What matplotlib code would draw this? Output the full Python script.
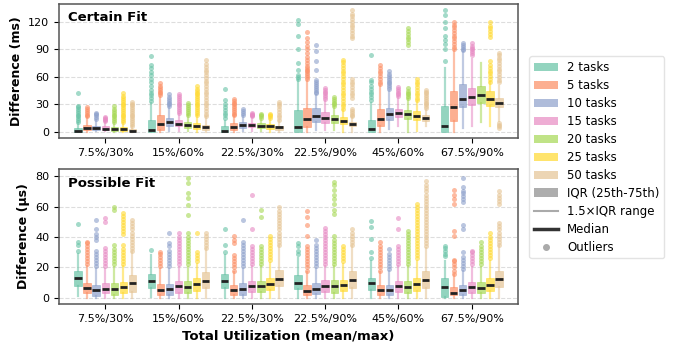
import matplotlib
matplotlib.use("Agg")
from matplotlib import pyplot as plt
from matplotlib.patches import Patch
from matplotlib.lines import Line2D
import numpy as np

groups = ["7.5%/30%", "15%/60%", "22.5%/30%", "22.5%/90%", "45%/60%", "67.5%/90%"]
series = ["2 tasks", "5 tasks", "10 tasks", "15 tasks", "20 tasks", "25 tasks", "50 tasks"]
colors = ["#66c2a5", "#fc8d62", "#8da0cb", "#e78ac3", "#a6d854", "#ffd92f", "#e5c494"]

# ---- Certain Fit (ms) ----
certain_q1 = [
    [0.3, 0.2, 0.2, 0.3, 0.2, 0.3],
    [2, 2, 2, 5.8, 6.5, 12.4],
    [2.5, 7, 4.7, 11, 13, 27],
    [2, 6, 5, 9.5, 16, 29.5],
    [1.5, 4, 4, 9.5, 14, 32],
    [1, 3.5, 3.5, 8.5, 13, 28.4],
    [0.5, 2, 2, 6, 12.3, 27],
]
certain_med = [
    [1.5, 2.5, 1.0, 5.0, 3.3, 7.0],
    [4.5, 8.5, 5.5, 14, 14.5, 27.6],
    [4.5, 11, 8, 17.8, 19.6, 36],
    [3.5, 9, 7.6, 15, 20.4, 38.5],
    [3, 7.5, 6.5, 14, 19.3, 40.4],
    [3, 7, 6.2, 12, 17.8, 36],
    [1.5, 5, 5.2, 8.7, 15.6, 32],
]
certain_q3 = [
    [4.5, 13, 6, 24, 13, 28],
    [8, 18, 9.6, 26, 25, 45],
    [7, 15, 11.3, 26, 26.5, 52.3],
    [6, 13, 10.2, 21.5, 25.4, 48],
    [5.5, 11, 9.5, 18, 24, 50],
    [5, 10, 9, 16, 23, 44.7],
    [3, 8, 7, 11, 18.5, 37.4],
]
certain_lo = [
    [0, 0, 0, 0, 0, 0],
    [0, 0, 0, 0, 0, 0],
    [0.5, 1, 1, 2, 3, 4.7],
    [0.5, 1, 1, 2, 6, 7],
    [0, 0.5, 0.5, 2, 0, 10.5],
    [0, 0, 0, 0, 1, 6],
    [0, 0, 0, 0, 6, 12],
]
certain_hi = [
    [10, 32, 12, 57, 32, 70],
    [16, 38, 17, 56, 50, 88],
    [13, 27, 17, 40, 45, 87],
    [11, 20, 16, 34, 38, 80],
    [10, 18, 14, 27, 36, 75.6],
    [10, 18, 14, 24, 33, 54],
    [6, 16, 12, 16, 24, 50],
]
certain_out = [
    [[11, 13, 15, 17, 19, 21, 23, 25, 27, 28, 42],
     [34, 37, 40, 43, 46, 50, 55, 58, 62, 65, 70, 73, 83],
     [15, 18, 21, 24, 27, 30, 35, 47],
     [58, 60, 62, 68, 75, 90, 105, 118, 122],
     [35, 38, 41, 44, 47, 50, 54, 57, 84],
     [77, 91, 96, 100, 105, 113, 120, 128, 133]],
    [[17, 19, 21, 23, 25, 27],
     [40, 42, 44, 46, 48, 50, 53],
     [18, 20, 22, 24, 26, 28, 30, 32, 34, 36],
     [58, 60, 62, 64, 66, 68, 70, 72, 75, 78, 82, 86, 90, 94, 98, 102, 109],
     [52, 55, 58, 61, 64, 67, 70, 73],
     [90, 93, 96, 99, 102, 105, 108, 111, 114, 117, 120]],
    [[14, 16, 18, 20, 21],
     [28, 30, 32, 34, 36, 38, 41],
     [19, 21, 23, 25],
     [42, 44, 46, 48, 50, 52, 54, 57, 68, 77, 88, 95],
     [47, 49, 51, 53, 55, 57, 59, 61, 63, 66],
     [89, 91, 93, 95, 97]],
    [[12, 13, 14, 15, 16],
     [21, 23, 25, 27, 29, 31, 33, 35, 37, 39, 41],
     [17, 18, 19, 20, 21],
     [36, 38, 40, 42, 44, 46, 48],
     [39, 41, 43, 45, 47, 49],
     [84, 86, 88, 90, 92, 94, 97]],
    [[11, 13, 15, 17, 19, 21, 23, 25, 28],
     [19, 21, 23, 25, 27, 29, 32],
     [15, 17, 19, 20],
     [28, 30, 32, 34, 36, 38],
     [37, 39, 41, 43, 45, 48, 95, 98, 101, 104, 107, 110, 113],
     []],
    [[11, 13, 15, 17, 19, 21, 23, 25, 27, 29, 31, 33, 35, 37, 39, 42],
     [19, 21, 23, 25, 27, 29, 31, 33, 35, 37, 39, 41, 43, 45, 47, 50],
     [15, 17, 19, 20],
     [25, 28, 31, 34, 37, 40, 43, 46, 49, 52, 55, 58, 61, 64, 67, 70, 73, 76, 78],
     [35, 37, 40, 43, 46, 49, 52, 55, 58],
     [55, 58, 61, 64, 67, 70, 73, 77, 104, 107, 110, 113, 116, 120]],
    [[7, 9, 11, 13, 15, 17, 19, 21, 23, 25, 27, 29, 31, 33],
     [17, 20, 23, 26, 29, 32, 35, 38, 41, 44, 47, 50, 53, 56, 59, 62, 65, 68, 71, 74, 78],
     [13, 16, 19, 22, 25, 28, 31, 33],
     [17, 19, 21, 23, 25, 37, 40, 43, 46, 49, 52, 55, 58,
      102, 105, 108, 111, 114, 117, 120, 123, 126, 129, 133],
     [26, 28, 30, 32, 34, 36, 38, 40, 42, 44, 46],
     [4, 6, 8, 10, 54, 57, 60, 63, 66, 69, 72, 75, 78, 81, 84, 86]],
]

# ---- Possible Fit (us) ----
possible_q1 = [
    [7.9, 6.2, 6.2, 5.8, 5.3, 0.9],
    [2.9, 1.8, 1.8, 1.8, 1.8, 1.8],
    [1.3, 1.8, 1.8, 2.4, 1.8, 1.8],
    [2.9, 3, 4.2, 4.2, 4.2, 3.5],
    [2.2, 3, 4.2, 3.5, 3.5, 3.5],
    [2.9, 4.4, 5.1, 4.4, 4.4, 4.4],
    [4, 6.2, 7.6, 6.6, 6.6, 7],
]
possible_med = [
    [12.8, 11, 11, 10, 9.5, 7],
    [6.2, 5.5, 5.3, 4.8, 5, 3.5],
    [5, 5.8, 5.7, 5.7, 5, 5.5],
    [6, 7.5, 7.8, 7.5, 7.5, 7],
    [6, 7, 7.5, 7.5, 7, 6.6],
    [7, 9, 9, 8.3, 9, 8.8],
    [9.5, 11, 12.6, 12, 12, 12.4],
]
possible_q3 = [
    [17.6, 16, 15.4, 15, 13.4, 13.4],
    [10.1, 9, 8.4, 8.8, 8.4, 7.3],
    [8.8, 9, 9.5, 9.5, 8.4, 8.4],
    [10.1, 11.3, 11.3, 11.5, 11.3, 10.7],
    [10.1, 11.3, 11.3, 11.7, 11.3, 10.7],
    [10.5, 12.9, 12.9, 12, 12.9, 12.9],
    [15, 17.2, 18.5, 18, 17.6, 18],
]
possible_lo = [
    [1, 0.5, 0, 0, 0, 0],
    [0, 0, 0, 0, 0, 0],
    [0, 0, 0, 0, 0, 0],
    [0, 0, 0, 0, 0, 0],
    [0, 0, 0, 0, 0, 0],
    [0, 0, 0, 0, 0, 0],
    [0, 0, 0, 0, 0, 0],
]
possible_hi = [
    [29, 28, 28, 26, 24, 24],
    [21, 19, 17, 17, 17, 15],
    [19, 19, 19, 19, 18, 18],
    [19, 20, 21, 21, 21, 20],
    [20, 20, 21, 21, 21, 20],
    [21, 22, 23, 22, 24, 24],
    [30, 32, 34, 34, 33, 34],
]
possible_out = [
    [[31, 34.5, 36.5, 48.4],
     [31.8],
     [30, 34.5, 45],
     [29, 31, 34, 36],
     [26, 30, 38.8, 46.5, 50.9],
     [27.6, 29, 31, 33, 34]],
    [[22, 24, 26, 28, 30, 32, 34, 36, 37],
     [21, 23, 25, 27, 29, 30],
     [18, 20, 22, 24, 26, 28, 36, 38, 41],
     [18, 20, 22, 24, 26, 28, 30, 32, 34, 41, 48, 53, 57],
     [18, 20, 22, 24, 26, 28, 30, 32, 34, 37],
     [16, 18, 20, 22, 24, 25, 41, 44, 62, 65, 68, 71]],
    [[21, 23, 25, 27, 29, 31, 38, 40, 42, 45, 51],
     [21, 23, 25, 27, 29, 31, 34, 36, 43],
     [21, 23, 25, 27, 29, 31, 33, 35, 37, 51],
     [21, 23, 25, 27, 29, 31, 33, 35, 38],
     [19, 21, 23, 25, 27, 29, 32],
     [19, 21, 23, 25, 27, 30, 45, 48, 63, 65, 67, 69, 70, 73, 79]],
    [[21, 23, 25, 27, 29, 31, 33, 50, 52.6],
     [22, 24, 26, 28, 30, 32, 34, 36, 38, 40, 43],
     [22, 24, 26, 28, 30, 32, 34, 45, 68],
     [22, 24, 26, 28, 30, 32, 34, 36, 38, 40, 42, 44, 46],
     [22, 24, 26, 28, 30, 32, 34, 45, 52.6],
     [22, 24, 26, 28, 30, 31]],
    [[22, 24, 26, 28, 30, 32, 35, 57.5, 60],
     [22, 24, 26, 28, 30, 32, 34, 36, 38, 40, 43, 54.5, 61, 65.5, 68.8, 75.4, 78.7],
     [22, 24, 26, 28, 30, 32, 34, 53, 58],
     [22, 24, 26, 28, 30, 32, 34, 36, 38, 41, 55, 58, 62, 65, 68, 71, 74, 76],
     [22, 24, 26, 28, 30, 32, 34, 36, 38, 40, 42, 44],
     [22, 24, 26, 28, 30, 32, 34, 37]],
    [[22, 24, 26, 28, 30, 32, 35, 42, 44, 46, 48, 50, 52, 54, 56],
     [24, 26, 28, 30, 43],
     [25, 27, 29, 31, 33, 35, 37, 39, 41],
     [24, 26, 28, 30, 32, 34],
     [26, 28, 30, 32, 34, 36, 38, 40, 42, 44, 46, 48, 50, 52, 54, 56, 58, 60, 62],
     [26, 28, 30, 32, 34, 36, 38, 40, 43]],
    [[31, 33, 35, 37, 39, 41, 43, 45, 47, 49, 51],
     [33, 35, 37, 39, 41, 43],
     [35, 37, 39, 41, 43, 45, 47, 49, 51, 53, 55, 57, 60],
     [35, 37, 39, 41, 43, 45],
     [34, 36, 38, 40, 42, 44, 46, 48, 50, 52, 54, 56, 58, 60, 62, 64, 66, 68, 70, 72, 74, 77],
     [35, 37, 39, 41, 43, 45, 47, 49, 62, 64, 66, 68, 70]],
]


def draw_panel(ax, q1, med, q3, lo, hi, out):
    x = np.arange(len(groups))
    step = 0.124
    for i, c in enumerate(colors):
        stats = []
        for g in range(len(groups)):
            stats.append({"q1": q1[i][g], "med": med[i][g], "q3": q3[i][g],
                          "whislo": lo[i][g], "whishi": hi[i][g],
                          "fliers": out[i][g]})
        pos = x + (i - 3) * step
        ax.bxp(stats, positions=pos, widths=0.1, patch_artist=True,
               showcaps=False, manage_ticks=False,
               boxprops=dict(facecolor=c, edgecolor=c, alpha=0.7, linewidth=0.5),
               whiskerprops=dict(color=c, alpha=0.55, linewidth=1.6),
               medianprops=dict(color="#222222", linewidth=2),
               flierprops=dict(marker="o", markersize=3.6, markerfacecolor=c,
                               markeredgecolor="none", alpha=0.6))
    ax.set_xticks(x)
    ax.set_xticklabels(groups, fontsize=8)
    ax.set_xlim(-0.63, 5.63)
    ax.tick_params(axis="y", labelsize=8)
    ax.yaxis.grid(True, linestyle="--", color="#dddddd", linewidth=0.8)
    ax.set_axisbelow(True)
    for s in ax.spines.values():
        s.set_color("#555555")
        s.set_linewidth(1.1)


fig = plt.figure(figsize=(6.78, 3.52), dpi=100)
ax1 = fig.add_axes([0.087, 0.608, 0.677, 0.381])
ax2 = fig.add_axes([0.087, 0.136, 0.677, 0.384])

draw_panel(ax1, certain_q1, certain_med, certain_q3, certain_lo, certain_hi, certain_out)
ax1.set_ylim(-6.6, 139.7)
ax1.set_yticks([0, 30, 60, 90, 120])
ax1.set_ylabel("Difference (ms)", fontsize=9, fontweight="bold")
ax1.text(0.02, 0.95, "Certain Fit", transform=ax1.transAxes, fontsize=9.5,
         fontweight="bold", va="top")

draw_panel(ax2, possible_q1, possible_med, possible_q3, possible_lo, possible_hi, possible_out)
ax2.set_ylim(-4.1, 84.8)
ax2.set_yticks([0, 20, 40, 60, 80])
ax2.set_ylabel("Difference (\u03bcs)", fontsize=9, fontweight="bold")
ax2.set_xlabel("Total Utilization (mean/max)", fontsize=9.5, fontweight="bold")
ax2.text(0.02, 0.94, "Possible Fit", transform=ax2.transAxes, fontsize=9.5,
         fontweight="bold", va="top")

handles = [Patch(facecolor=c, alpha=0.7, label=s) for c, s in zip(colors, series)]
handles.append(Patch(facecolor="#999999", alpha=0.8, label="IQR (25th-75th)"))
handles.append(Line2D([], [], color="#aaaaaa", linewidth=1.5, label="1.5\u00d7IQR range"))
handles.append(Line2D([], [], color="#333333", linewidth=2.5, label="Median"))
handles.append(Line2D([], [], color="#aaaaaa", marker="o", linestyle="none",
                      markersize=4, label="Outliers"))
fig.legend(handles=handles, loc="center left", bbox_to_anchor=(0.772, 0.553),
           fontsize=8.5, frameon=True, edgecolor="#dddddd", labelspacing=0.42)

plt.savefig("out.png", dpi=100)
